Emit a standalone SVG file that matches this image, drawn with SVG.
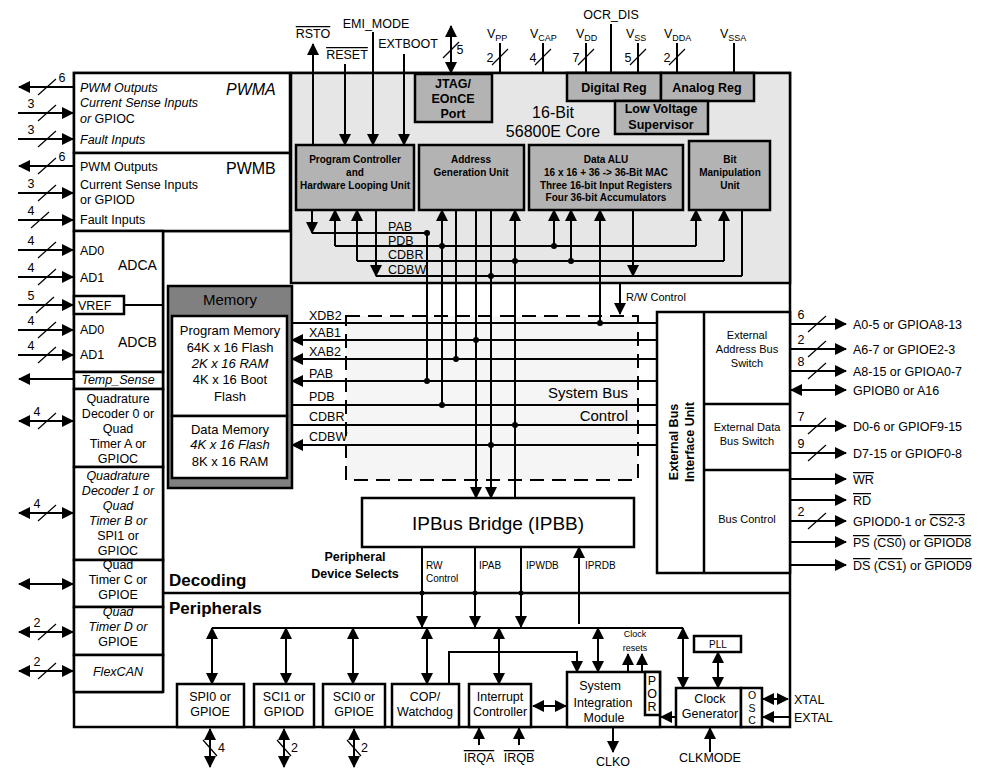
<svg xmlns="http://www.w3.org/2000/svg" width="989" height="779" viewBox="0 0 989 779">
<defs>
<marker id="a" markerUnits="userSpaceOnUse" markerWidth="12" markerHeight="12" viewBox="0 0 12 12" refX="11" refY="6" orient="auto-start-reverse"><path d="M0,0L12,6L0,12z" fill="#000"/></marker>
<style>
text{font-family:"Liberation Sans",Arial,sans-serif;fill:#000}
.w{stroke:#000;stroke-width:2;fill:none}
.t{stroke:#000;stroke-width:1.2;fill:none}
.ar{marker-end:url(#a)}
.da{marker-start:url(#a);marker-end:url(#a)}
.bx{fill:#fff;stroke:#000;stroke-width:2.5}
.core{fill:#b3b3b3;stroke:#000;stroke-width:2.5}
.f12{font-size:12.5px}
.f11{font-size:11px}
.f10{font-size:10px}
.b{font-weight:bold}
.i{font-style:italic}
.m{text-anchor:middle}
.ov{text-decoration:overline}
</style>
</defs>
<rect width="989" height="779" fill="#fff"/>

<g id="chip">
<rect x="74" y="73" width="716" height="654" fill="#fff" stroke="#000" stroke-width="2.5"/>
<rect x="291" y="73" width="499" height="210" fill="#e6e6e6" stroke="#000" stroke-width="2.5"/>
<line class="w" x1="163" y1="593" x2="790" y2="593" style="stroke-width:2.5"/>
<line class="w" x1="163" y1="231" x2="163" y2="692" style="stroke-width:2.5"/>
<line class="w" x1="74" y1="692" x2="163" y2="692" style="stroke-width:2.5"/>
<line class="w" x1="163" y1="231" x2="291" y2="231" style="stroke-width:2.5"/>
<text x="169" y="586" class="b" font-size="17">Decoding</text>
<text x="169" y="614" class="b" font-size="17">Peripherals</text>
</g>

<g id="pwma">
<rect x="74" y="73" width="216" height="80" class="bx"/>
<text x="80" y="92" class="f12 i">PWM Outputs</text>
<text x="80" y="107" class="f12 i">Current Sense Inputs</text>
<text x="80" y="123" class="f12"><tspan class="i">or</tspan> GPIOC</text>
<text x="80" y="144" class="f12 i">Fault Inputs</text>
<text x="226" y="95" class="i" font-size="16">PWMA</text>
</g>
<g id="pwmb">
<rect x="74" y="153" width="216" height="78" class="bx"/>
<text x="80" y="171" class="f12">PWM Outputs</text>
<text x="80" y="189" class="f12">Current Sense Inputs</text>
<text x="80" y="204" class="f12">or GPIOD</text>
<text x="80" y="224" class="f12">Fault Inputs</text>
<text x="226" y="174" font-size="16">PWMB</text>
</g>
<g id="adca">
<rect x="74" y="231" width="89" height="141" class="bx"/>
<text x="80" y="255" class="f12">AD0</text>
<text x="80" y="282" class="f12">AD1</text>
<text x="118" y="270" font-size="14">ADCA</text>
<rect x="74" y="296" width="50" height="18" class="bx"/>
<text x="78" y="310" class="f12">VREF</text>
<line class="w" x1="124" y1="305" x2="163" y2="305"/>
<text x="80" y="334" class="f12">AD0</text>
<text x="80" y="359" class="f12">AD1</text>
<text x="118" y="347" font-size="14">ADCB</text>
</g>
<g id="temp">
<rect x="74" y="372" width="89" height="17" class="bx"/>
<text x="118" y="384" class="f12 i m">Temp_Sense</text>
</g>
<g id="qd0">
<rect x="74" y="389" width="89" height="78" class="bx"/>
<text class="f12 m"><tspan x="118" y="403">Quadrature</tspan><tspan x="118" y="418">Decoder 0 or</tspan><tspan x="118" y="433">Quad</tspan><tspan x="118" y="448">Timer A or</tspan><tspan x="118" y="463">GPIOC</tspan></text>
</g>
<g id="qd1">
<rect x="74" y="467" width="89" height="93" class="bx"/>
<text class="f12 m"><tspan x="118" y="480" class="i">Quadrature</tspan><tspan x="118" y="495" class="i">Decoder 1 or</tspan><tspan x="118" y="510" class="i">Quad</tspan><tspan x="118" y="525" class="i">Timer B or</tspan><tspan x="118" y="540">SPI1 or</tspan><tspan x="118" y="555">GPIOC</tspan></text>
</g>
<g id="qtc">
<rect x="74" y="560" width="89" height="47" class="bx"/>
<text class="f12 m"><tspan x="118" y="569">Quad</tspan><tspan x="118" y="584">Timer C or</tspan><tspan x="118" y="599">GPIOE</tspan></text>
</g>
<g id="qtd">
<rect x="74" y="607" width="89" height="48" class="bx"/>
<text class="f12 m"><tspan x="118" y="616" class="i">Quad</tspan><tspan x="118" y="631" class="i">Timer D or</tspan><tspan x="118" y="646">GPIOE</tspan></text>
</g>
<g id="flexcan">
<rect x="74" y="655" width="89" height="37" class="bx"/>
<text x="118" y="676" class="f12 i m">FlexCAN</text>
</g>

<g id="memory">
<rect x="168" y="286" width="124" height="202" fill="#808080" stroke="#000" stroke-width="2.5"/>
<text x="230" y="305" font-size="15" class="m">Memory</text>
<rect x="172" y="316" width="115" height="100" class="bx"/>
<text font-size="13" class="m"><tspan x="230" y="335">Program Memory</tspan><tspan x="230" y="352">64K x 16 Flash</tspan><tspan x="230" y="368" class="i">2K x 16 RAM</tspan><tspan x="230" y="384">4K x 16 Boot</tspan><tspan x="230" y="401">Flash</tspan></text>
<rect x="172" y="416" width="115" height="62" class="bx"/>
<text font-size="13" class="m"><tspan x="230" y="434">Data Memory</tspan><tspan x="230" y="449" class="i">4K x 16 Flash</tspan><tspan x="230" y="466">8K x 16 RAM</tspan></text>
</g>

<g id="jtag"><rect x="415" y="74" width="77" height="48" class="core"/>
<text class="b m" font-size="12.5"><tspan x="453" y="88">JTAG/</tspan><tspan x="453" y="103">EOnCE</tspan><tspan x="453" y="118">Port</tspan></text></g>
<g id="digreg"><rect x="567" y="73" width="94" height="28" class="core"/><text x="614" y="92" class="b m" font-size="12.5">Digital Reg</text></g>
<g id="anareg"><rect x="661" y="73" width="93" height="28" class="core"/><text x="707" y="92" class="b m" font-size="12.5">Analog Reg</text></g>
<g id="lvs"><rect x="615" y="101" width="93" height="33" class="core"/><text class="b m" font-size="12.5"><tspan x="661" y="113">Low Voltage</tspan><tspan x="661" y="129">Supervisor</tspan></text></g>
<text class="m" font-size="16"><tspan x="553" y="118">16-Bit</tspan><tspan x="553" y="137">56800E Core</tspan></text>

<g id="pc"><rect x="296" y="145" width="118" height="65" class="core"/><text class="b m f10"><tspan x="355" y="163">Program Controller</tspan><tspan x="355" y="176">and</tspan><tspan x="355" y="189">Hardware Looping Unit</tspan></text></g>
<g id="agu"><rect x="419" y="145" width="105" height="65" class="core"/><text class="b m f10"><tspan x="471" y="163">Address</tspan><tspan x="471" y="176">Generation Unit</tspan></text></g>
<g id="alu"><rect x="529" y="145" width="154" height="65" class="core"/><text class="b m f10"><tspan x="606" y="163">Data ALU</tspan><tspan x="606" y="176">16 x 16 + 36 -&gt; 36-Bit MAC</tspan><tspan x="606" y="189">Three 16-bit Input Registers</tspan><tspan x="606" y="201">Four 36-bit Accumulators</tspan></text></g>
<g id="bmu"><rect x="689" y="141" width="81" height="69" class="core"/><text class="b m f10"><tspan x="730" y="163">Bit</tspan><tspan x="730" y="176">Manipulation</tspan><tspan x="730" y="189">Unit</tspan></text></g>

<g id="sysbus">
<rect x="346" y="316" width="292" height="164" fill="#f5f5f5" stroke="#000" stroke-width="2" stroke-dasharray="14,8"/>
<text x="628" y="398" font-size="15" text-anchor="end">System Bus</text>
<text x="628" y="421" font-size="15" text-anchor="end">Control</text>
</g>
<g id="ipbb"><rect x="362" y="498" width="272" height="49" class="bx"/><text x="498" y="530" font-size="19" class="m">IPBus Bridge (IPBB)</text></g>
<text class="b m" font-size="12.5"><tspan x="355" y="561">Peripheral</tspan><tspan x="355" y="578">Device Selects</tspan></text>

<g id="ebiu">
<rect x="657" y="312" width="133" height="261" class="bx"/>
<line class="w" x1="704" y1="312" x2="704" y2="573" style="stroke-width:2.5"/>
<line class="w" x1="704" y1="404" x2="790" y2="404" style="stroke-width:2.5"/>
<line class="w" x1="704" y1="470" x2="790" y2="470" style="stroke-width:2.5"/>
<text transform="translate(680,442) rotate(-90)" class="b m" font-size="12.5"><tspan x="0" y="-2">External Bus</tspan><tspan x="0" y="14">Interface Unit</tspan></text>
<text class="m f11"><tspan x="747" y="339">External</tspan><tspan x="747" y="353">Address Bus</tspan><tspan x="747" y="367">Switch</tspan></text>
<text class="m f11"><tspan x="747" y="431">External Data</tspan><tspan x="747" y="445">Bus Switch</tspan></text>
<text x="747" y="523" class="m f11">Bus Control</text>
</g>

<g id="spi0"><rect x="177" y="684" width="67" height="43" class="bx"/><text class="m f12"><tspan x="210" y="701">SPI0 or</tspan><tspan x="210" y="716">GPIOE</tspan></text></g>
<g id="sci1"><rect x="254" y="684" width="60" height="43" class="bx"/><text class="m f12"><tspan x="284" y="701">SCI1 or</tspan><tspan x="284" y="716">GPIOD</tspan></text></g>
<g id="sci0"><rect x="323" y="684" width="62" height="43" class="bx"/><text class="m f12"><tspan x="354" y="701">SCI0 or</tspan><tspan x="354" y="716">GPIOE</tspan></text></g>
<g id="cop"><rect x="392" y="684" width="67" height="43" class="bx"/><text class="m f12"><tspan x="425" y="701">COP/</tspan><tspan x="425" y="716">Watchdog</tspan></text></g>
<g id="intc"><rect x="469" y="684" width="62" height="43" class="bx"/><text class="m f12"><tspan x="500" y="701">Interrupt</tspan><tspan x="500" y="716">Controller</tspan></text></g>
<g id="sim"><rect x="567" y="672" width="93" height="55" class="bx"/><text class="m f12"><tspan x="600" y="690">System</tspan><tspan x="603" y="707">Integration</tspan><tspan x="604" y="722">Module</tspan></text>
<rect x="645" y="672" width="15" height="43" class="bx"/><text class="m f12"><tspan x="652" y="685">P</tspan><tspan x="652" y="698">O</tspan><tspan x="652" y="711">R</tspan></text></g>
<g id="clkgen"><rect x="676" y="688" width="65" height="39" class="bx"/><text class="m f12"><tspan x="710" y="703">Clock</tspan><tspan x="710" y="718">Generator</tspan></text>
<rect x="741" y="688" width="21" height="39" class="bx"/><text class="m" font-size="10.5"><tspan x="752" y="699">O</tspan><tspan x="752" y="711.5">S</tspan><tspan x="752" y="724">C</tspan></text></g>
<g id="pll"><rect x="694" y="636" width="47" height="16" class="bx"/><text x="718" y="648" class="m f10">PLL</text></g>
<text class="m" font-size="9"><tspan x="635" y="637">Clock</tspan><tspan x="635" y="651">resets</tspan></text>

<g id="connectors">
<path class="w ar" d="M313,145V44"/>
<path class="w ar" d="M345,64V145"/>
<path class="w ar" d="M373,32V145"/>
<path class="w ar" d="M404,54V145"/>
<path class="w da" d="M451,26V73"/>
<line class="t" x1="443" y1="58" x2="459" y2="42"/>
<path class="w" d="M500,43V73M543,43V73M586,43V73M611,24V73M638,43V73M677,43V73M734,43V73"/>
<path class="t" d="M492,65L508,49M535,65L551,49M578,65L594,49M630,65L646,49M669,65L685,49"/>
<path class="w ar" d="M312,210V233"/>
<path class="w" d="M312,233H427"/>
<path class="w ar" d="M335,246V210"/>
<path class="w ar" d="M357,261V210"/>
<path class="w ar" d="M376,210V276"/>
<path class="w" d="M335,246H696M357,261H724M376,276H742"/>
<path class="w" d="M427,233V381"/>
<path class="w ar" d="M442,405V210"/>
<path class="w" d="M456,210V359"/>
<path class="w ar" d="M476,210V498"/>
<path class="w ar" d="M491,210V498"/>
<path class="w ar" d="M515,498V210"/>
<path class="w ar" d="M554,246V210"/>
<path class="w ar" d="M571,261V210"/>
<path class="w ar" d="M600,323V210"/>
<path class="w ar" d="M633,210V276"/>
<path class="w ar" d="M696,246V210"/>
<path class="w ar" d="M724,261V210"/>
<path class="w" d="M742,210V276"/>
<path class="w ar" d="M620,283V314"/>
<path class="w" d="M657,323H292"/>
<path class="w ar" d="M657,340H292"/>
<path class="w ar" d="M657,359H292"/>
<path class="w ar" d="M657,381H292"/>
<path class="w" d="M657,405H292"/>
<path class="w" d="M657,425H292"/>
<path class="w ar" d="M657,445H292"/>
<g fill="#000">
<circle cx="427" cy="233" r="3"/><circle cx="442" cy="246" r="3"/><circle cx="515" cy="261" r="3"/><circle cx="491" cy="276" r="3"/>
<circle cx="554" cy="246" r="3"/><circle cx="571" cy="261" r="3"/>
<circle cx="600" cy="323" r="3"/><circle cx="476" cy="340" r="3"/><circle cx="456" cy="359" r="3"/><circle cx="427" cy="381" r="3"/><circle cx="442" cy="405" r="3"/><circle cx="515" cy="425" r="3"/><circle cx="491" cy="445" r="3"/>
<circle cx="422" cy="593" r="2.5"/><circle cx="475" cy="593" r="2.5"/><circle cx="521" cy="593" r="2.5"/>
</g>
<path class="w ar" d="M422,547V627"/>
<path class="w ar" d="M475,547V627"/>
<path class="w ar" d="M521,547V627"/>
<path class="w ar" d="M579,624V547"/>
<path class="w" d="M212,628H683"/>
<path class="w da" d="M212,628V684"/>
<path class="w da" d="M286,628V684"/>
<path class="w da" d="M353,628V684"/>
<path class="w da" d="M427,628V684"/>
<path class="w da" d="M499,628V684"/>
<path class="w da" d="M598,628V672"/>
<path class="w da" d="M683,628V688"/>
<path class="w ar" d="M449,684V652H577V672"/>
<path class="w ar" d="M628,672V654"/>
<path class="w ar" d="M642,672V654"/>
<path class="w da" d="M533,706H566"/>
<path class="w ar" d="M676,717H661"/>
<path class="w da" d="M718,652V688"/>
<path class="w da" d="M763,699H788"/>
<path class="w ar" d="M790,717H763"/>
<path class="w ar" d="M613,727V752"/>
<path class="w ar" d="M710,752V728"/>
<path class="w ar" d="M479,745V728"/>
<path class="w ar" d="M519,745V728"/>
<path class="w da" d="M210,729V767"/>
<path class="w da" d="M284,729V767"/>
<path class="w da" d="M354,729V767"/>
<path class="t" d="M203,740L217,756M277,740L291,756M347,740L361,756"/>
<path class="w ar" d="M74,87H19"/>
<path class="w ar" d="M18,113H73"/>
<path class="w ar" d="M18,139H73"/>
<path class="w ar" d="M74,166H19"/>
<path class="w ar" d="M18,193H73"/>
<path class="w ar" d="M18,220H73"/>
<path class="w ar" d="M18,250H73"/>
<path class="w ar" d="M18,277H73"/>
<path class="w ar" d="M18,305H73"/>
<path class="w ar" d="M18,330H73"/>
<path class="w ar" d="M18,355H73"/>
<path class="w ar" d="M74,379H19"/>
<path class="w da" d="M19,421H73"/>
<path class="w da" d="M19,513H73"/>
<path class="w da" d="M19,584H73"/>
<path class="w da" d="M19,632H73"/>
<path class="w da" d="M19,671H73"/>
<path class="t" d="M38,95L56,79M38,121L56,105M38,147L56,131M38,174L56,158M38,201L56,185M31,228L49,212M38,258L56,242M38,285L56,269M36,313L54,297M38,338L56,322M38,363L56,347M38,429L56,413M38,521L56,505M38,640L56,624M38,679L56,663"/>
<path class="w ar" d="M790,324H846"/>
<path class="w ar" d="M790,349H846"/>
<path class="w ar" d="M790,371H846"/>
<path class="w da" d="M791,390H846"/>
<path class="w ar" d="M790,426H846"/>
<path class="w ar" d="M790,453H846"/>
<path class="w ar" d="M790,479H846"/>
<path class="w ar" d="M790,500H846"/>
<path class="w ar" d="M790,521H846"/>
<path class="w ar" d="M790,542H846"/>
<path class="w ar" d="M790,565H846"/>
<path class="t" d="M808,332L826,316M808,357L826,341M808,379L826,363M808,434L826,418M808,461L826,445M808,529L826,513"/>
</g>

<g id="labels">
<text x="313" y="38" class="f12 m ov">RSTO</text>
<text x="347" y="59" class="f12 m ov">RESET</text>
<text x="376" y="28" class="f12 m">EMI_MODE</text>
<text x="408" y="48" class="f12 m">EXTBOOT</text>
<text x="460" y="54" class="f12 m">5</text>
<text x="611" y="19" class="f12 m">OCR_DIS</text>
<text x="487" y="38" class="f12">V<tspan font-size="9" dy="3">PP</tspan></text>
<text x="530" y="38" class="f12">V<tspan font-size="9" dy="3">CAP</tspan></text>
<text x="576" y="38" class="f12">V<tspan font-size="9" dy="3">DD</tspan></text>
<text x="626" y="38" class="f12">V<tspan font-size="9" dy="3">SS</tspan></text>
<text x="664" y="38" class="f12">V<tspan font-size="9" dy="3">DDA</tspan></text>
<text x="720" y="38" class="f12">V<tspan font-size="9" dy="3">SSA</tspan></text>
<text x="490" y="62" class="f12 m">2</text><text x="533" y="62" class="f12 m">4</text><text x="576" y="62" class="f12 m">7</text><text x="628" y="62" class="f12 m">5</text><text x="667" y="62" class="f12 m">2</text>
<text x="388" y="231" class="f12">PAB</text><text x="388" y="245" class="f12">PDB</text><text x="388" y="259" class="f12">CDBR</text><text x="388" y="274" class="f12">CDBW</text>
<text x="626" y="301" class="f11">R/W Control</text>
<text x="309" y="320" class="f12">XDB2</text><text x="309" y="337" class="f12">XAB1</text><text x="309" y="356" class="f12">XAB2</text><text x="309" y="378" class="f12">PAB</text><text x="309" y="401" class="f12">PDB</text><text x="309" y="421" class="f12">CDBR</text><text x="309" y="441" class="f12">CDBW</text>
<text class="f10"><tspan x="426" y="569">RW</tspan><tspan x="426" y="582">Control</tspan></text>
<text x="479" y="569" class="f10">IPAB</text><text x="526" y="569" class="f10">IPWDB</text><text x="585" y="569" class="f10">IPRDB</text>
<text x="62" y="82" class="f12 m">6</text><text x="31" y="108" class="f12 m">3</text><text x="31" y="134" class="f12 m">3</text>
<text x="62" y="161" class="f12 m">6</text><text x="31" y="188" class="f12 m">3</text><text x="31" y="215" class="f12 m">4</text>
<text x="31" y="245" class="f12 m">4</text><text x="31" y="272" class="f12 m">4</text><text x="31" y="300" class="f12 m">5</text><text x="31" y="325" class="f12 m">4</text><text x="31" y="350" class="f12 m">4</text>
<text x="37" y="416" class="f12 m">4</text><text x="37" y="508" class="f12 m">4</text><text x="37" y="627" class="f12 m">2</text><text x="37" y="666" class="f12 m">2</text>
<text x="801" y="319" class="f12 m">6</text><text x="801" y="344" class="f12 m">2</text><text x="801" y="366" class="f12 m">8</text><text x="801" y="421" class="f12 m">7</text><text x="801" y="448" class="f12 m">9</text><text x="801" y="516" class="f12 m">2</text>
<text x="853" y="329" class="f12">A0-5 or GPIOA8-13</text>
<text x="853" y="354" class="f12">A6-7 or GPIOE2-3</text>
<text x="853" y="376" class="f12">A8-15 or GPIOA0-7</text>
<text x="853" y="395" class="f12">GPIOB0 or A16</text>
<text x="853" y="431" class="f12">D0-6 or GPIOF9-15</text>
<text x="853" y="458" class="f12">D7-15 or GPIOF0-8</text>
<text x="853" y="484" class="f12 ov">WR</text>
<text x="853" y="505" class="f12 ov">RD</text>
<text x="853" y="526" class="f12">GPIOD0-1 or <tspan class="ov">CS2-3</tspan></text>
<text x="853" y="547" class="f12"><tspan class="ov">PS</tspan> (<tspan class="ov">CS0</tspan>) or <tspan class="ov">GPIOD8</tspan></text>
<text x="853" y="570" class="f12"><tspan class="ov">DS</tspan> (<tspan class="ov">CS1</tspan>) or <tspan class="ov">GPIOD9</tspan></text>
<text x="794" y="704" class="f12">XTAL</text>
<text x="794" y="722" class="f12">EXTAL</text>
<text x="613" y="766" class="f12 m">CLKO</text>
<text x="710" y="762" class="f12 m">CLKMODE</text>
<text x="479" y="762" class="f12 m ov">IRQA</text>
<text x="519" y="762" class="f12 m ov">IRQB</text>
<text x="218" y="752" class="f12">4</text><text x="291" y="752" class="f12">2</text><text x="361" y="752" class="f12">2</text>
</g>
</svg>
